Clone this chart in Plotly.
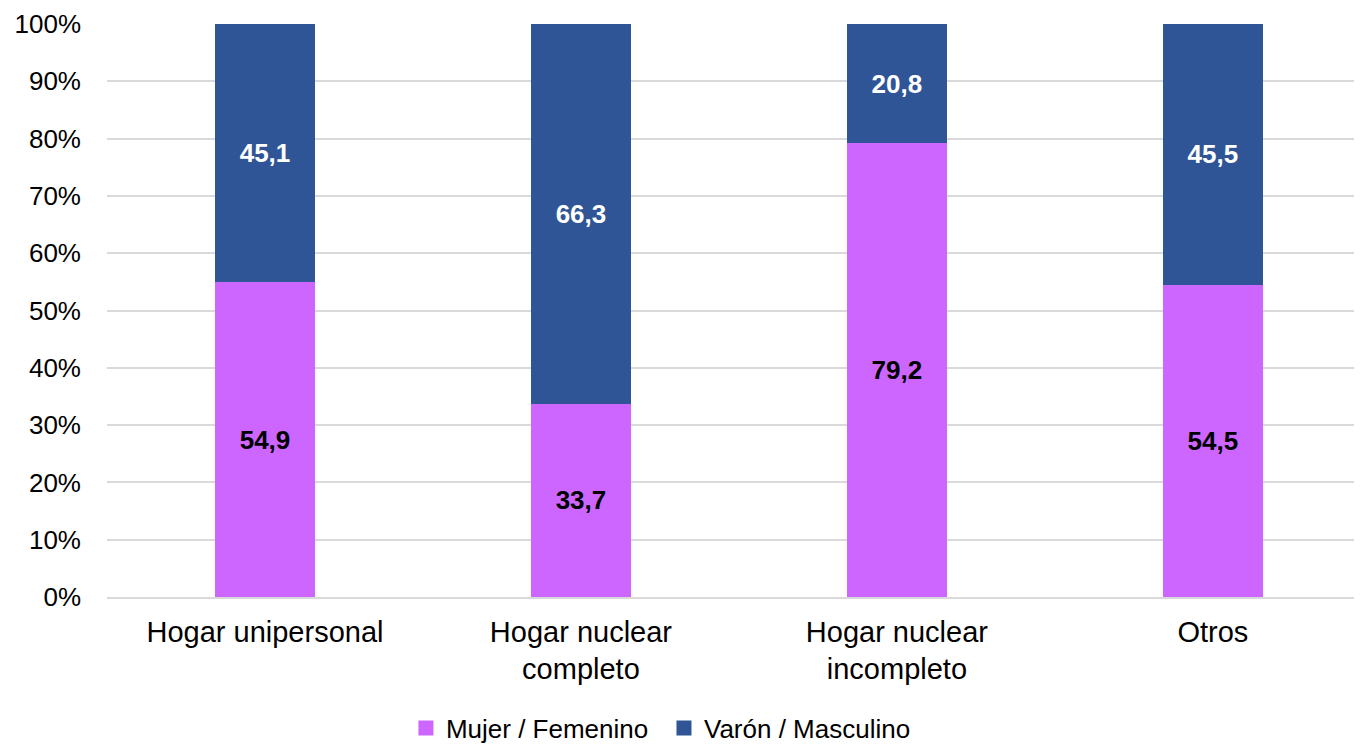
import plotly.graph_objects as go

categories = ["Hogar unipersonal", "Hogar nuclear<br>completo", "Hogar nuclear<br>incompleto", "Otros"]
mujer = [54.9, 33.7, 79.2, 54.5]
varon = [45.1, 66.3, 20.8, 45.5]
series_names = ["Mujer / Femenino", "Varón / Masculino"]
series_colors = ["#CC66FF", "#2F5597"]
y_ticks = [0, 10, 20, 30, 40, 50, 60, 70, 80, 90, 100]
y_tick_labels = [f"{v}%" for v in y_ticks]

font_family = "Liberation Sans, Arial, sans-serif"

fig = go.Figure()
for name, vals, col, tcol in zip(series_names, [mujer, varon], series_colors, ["black", "white"]):
    fig.add_trace(go.Bar(
        name=name, x=categories, y=vals, showlegend=False, legendgroup=name,
        marker=dict(color=col, line=dict(width=0)),
        texttemplate="<b>%{y:.1f}</b>", textposition="inside", insidetextanchor="middle",
        textangle=0, textfont=dict(size=26, color=tcol, family=font_family),
    ))
# legend entries with square swatches, one legend each for precise placement
for name, col, leg in zip(series_names, series_colors, ["legend", "legend2"]):
    fig.add_trace(go.Scatter(
        name=name, x=[None], y=[None], mode="markers", legendgroup=name, legend=leg,
        marker=dict(symbol="square", size=15, color=col), showlegend=True,
    ))

legend_common = dict(orientation="h", xanchor="left", y=-0.2286, yanchor="middle",
                     font=dict(size=26), itemwidth=30, bgcolor="rgba(0,0,0,0)")

fig.update_layout(
    barmode="stack",
    bargap=0.683,
    separators=",.",
    width=1354, height=752,
    margin=dict(l=99, r=0, t=16, b=163),
    plot_bgcolor="white", paper_bgcolor="white",
    font=dict(family=font_family, size=26, color="black"),
    legend=dict(x=0.2382, **legend_common),
    legend2=dict(x=0.4438, **legend_common),
    showlegend=True,
)
fig.update_yaxes(range=[0, 100], tickmode="array", tickvals=y_ticks, ticktext=y_tick_labels,
                 showgrid=True, gridcolor="#D9D9D9", gridwidth=1.5, automargin=False,
                 zeroline=False, showline=False, ticks="", ticklabelstandoff=25,
                 tickfont=dict(size=26))
fig.update_xaxes(range=[-0.5, 3.472], showgrid=False, showline=True, linecolor="#D9D9D9",
                 linewidth=1.5, automargin=False,
                 ticks="", ticklabelstandoff=8, tickfont=dict(size=29))

fig.write_html("out.html")
